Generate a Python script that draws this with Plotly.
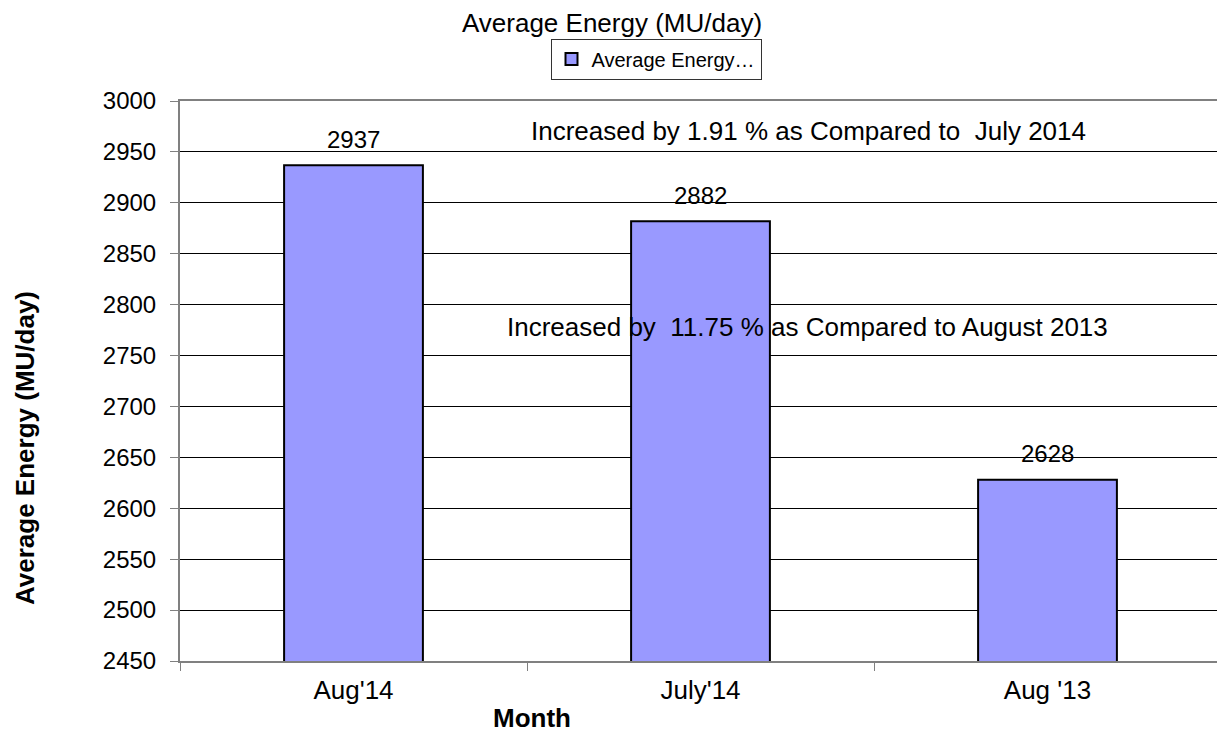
import plotly.graph_objects as go

categories = ["Aug'14", "July'14", "Aug '13"]
values = [2937, 2882, 2628]
series_name = "Average Energy…"
title_text = "Average Energy (MU/day)"
y_title = "Average Energy (MU/day)"
x_title = "Month"
note1 = "Increased by 1.91 % as Compared to  July 2014"
note2 = "Increased by  11.75 % as Compared to August 2013"

FONT = "Liberation Sans, Arial, sans-serif"
FS = 26
FN = 24

# page has an 8px body margin; figure is sized to fit the 1225x735 window
OFF = 8
W, H = 1225 - OFF, 735 - OFF
L, R, T, B = 180 - OFF, 4, 101 - OFF, 74
PW, PH = W - L - R, H - T - B


def px_x(page_x):
    return (page_x - OFF - L) / PW


def px_y(page_y):
    return (OFF + T + PH - page_y) / PH


fig = go.Figure()
fig.add_trace(go.Bar(
    x=categories, y=values, name=series_name,
    marker=dict(color="#9999FF", line=dict(color="black", width=2)),
    width=0.4,
    showlegend=True,
))

annotations = []
for c, v in zip(categories, values):
    annotations.append(dict(text=str(v), x=c, y=v, xref="x", yref="y",
                            showarrow=False, xanchor="center", yanchor="middle",
                            yshift=26,
                            font=dict(size=FN, family=FONT, color="black")))

common = dict(xref="paper", yref="paper", showarrow=False,
              xanchor="center", yanchor="middle")
annotations += [
    dict(text=note1, x=px_x(808), y=px_y(131), font=dict(size=FS, family=FONT), **common),
    dict(text=note2, x=px_x(807), y=px_y(327), font=dict(size=FS, family=FONT), **common),
    dict(text="<b>" + x_title + "</b>", x=px_x(532), y=px_y(718),
         font=dict(size=FS, family=FONT), **common),
    dict(text="<b>" + y_title + "</b>", x=px_x(25), y=px_y(448), textangle=-90,
         font=dict(size=FS, family=FONT), **common),
]

fig.update_layout(
    width=W, height=H,
    margin=dict(l=L, r=R, t=T, b=B, autoexpand=False),
    plot_bgcolor="white", paper_bgcolor="white",
    font=dict(family=FONT, size=FS, color="black"),
    title=dict(text=title_text, x=(612 - OFF) / W, xref="container",
               y=1 - (23 - OFF) / H, yref="container",
               xanchor="center", yanchor="middle",
               font=dict(size=26, family=FONT, color="black")),
    showlegend=True,
    legend=dict(orientation="h", x=(656 - OFF) / W, xref="container", xanchor="center",
                y=1 - (59 - OFF) / H, yref="container", yanchor="middle",
                bordercolor="#333333", borderwidth=1, bgcolor="white",
                font=dict(size=20, family=FONT), itemwidth=30),
    xaxis=dict(type="category", showline=True, linecolor="#808080", linewidth=2,
               mirror=True, ticks="outside", tickson="boundaries", ticklen=8,
               tickcolor="#808080", tickfont=dict(size=FS), ticklabelstandoff=5,
               showgrid=False),
    yaxis=dict(range=[2450, 3000], dtick=50, showline=True, linecolor="#808080",
               linewidth=2, mirror=True, ticks="outside", ticklen=8,
               tickcolor="#808080", tickfont=dict(size=FN), ticklabelstandoff=9,
               showgrid=True, gridcolor="black", gridwidth=1, zeroline=False),
    annotations=annotations,
)

fig.write_html("out.html")
